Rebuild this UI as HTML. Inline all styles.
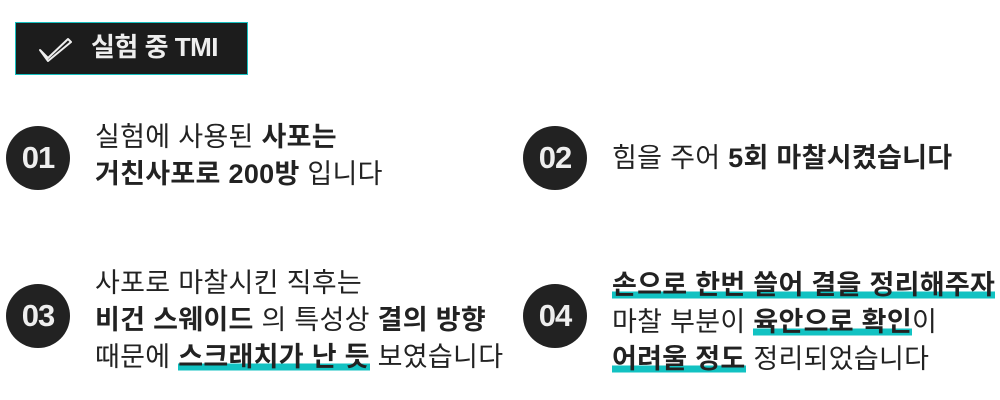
<!DOCTYPE html>
<html><head><meta charset="utf-8"><style>
body{margin:0;width:1000px;height:400px;background:#fff;position:relative;overflow:hidden;font-family:"Liberation Sans","Noto Sans CJK KR",sans-serif;color:#222}
.tag{position:absolute;left:15px;top:22px;width:233px;height:53px;background:#1c1c1c;border:1px solid #16c0c0;box-sizing:border-box;color:#eee;font-weight:bold;font-size:26px;line-height:50px}
.tag span{position:absolute;left:75px;top:-1px;letter-spacing:-0.5px}
.c{position:absolute;width:64px;height:64px;border-radius:50%;background:#222;color:#eee;font-weight:bold;font-size:31px;line-height:64px;text-align:center;letter-spacing:-1px}
.t{position:absolute;font-size:27px;line-height:37px;white-space:nowrap;letter-spacing:0.3px}
b{font-weight:bold}
.h{background:linear-gradient(transparent 72%,#12c2c2 72%,#12c2c2 95%,transparent 95%)}
</style></head><body>
<div class="tag"><svg style="position:absolute;left:22px;top:13px" width="34" height="26" viewBox="0 0 34 26"><path d="M2 14 L10 22 L30 3 L33 6 L10 25 Z" fill="none" stroke="#eee" stroke-width="2" stroke-linejoin="round"/></svg><span>실험 중 TMI</span></div>
<div class="c" style="left:6px;top:126px">01</div>
<div class="c" style="left:523px;top:126px">02</div>
<div class="c" style="left:6px;top:284px">03</div>
<div class="c" style="left:523px;top:284px">04</div>
<div class="t" style="left:95px;top:119px">실험에 사용된 <b>사포는</b><br><b>거친사포로 200방</b> 입니다</div>
<div class="t" style="left:612px;top:140px">힘을 주어 <b>5회 마찰시켰습니다</b></div>
<div class="t" style="left:95px;top:265px">사포로 마찰시킨 직후는<br><b>비건 스웨이드</b> 의 특성상 <b>결의 방향</b><br>때문에 <b class="h">스크래치가 난 듯</b> 보였습니다</div>
<div class="t" style="left:612px;top:267px"><b class="h">손으로 한번 쓸어 결을 정리해주자</b><br>마찰 부분이 <b class="h">육안으로 확인</b>이<br><b class="h">어려울 정도</b> 정리되었습니다</div>
</body></html>
